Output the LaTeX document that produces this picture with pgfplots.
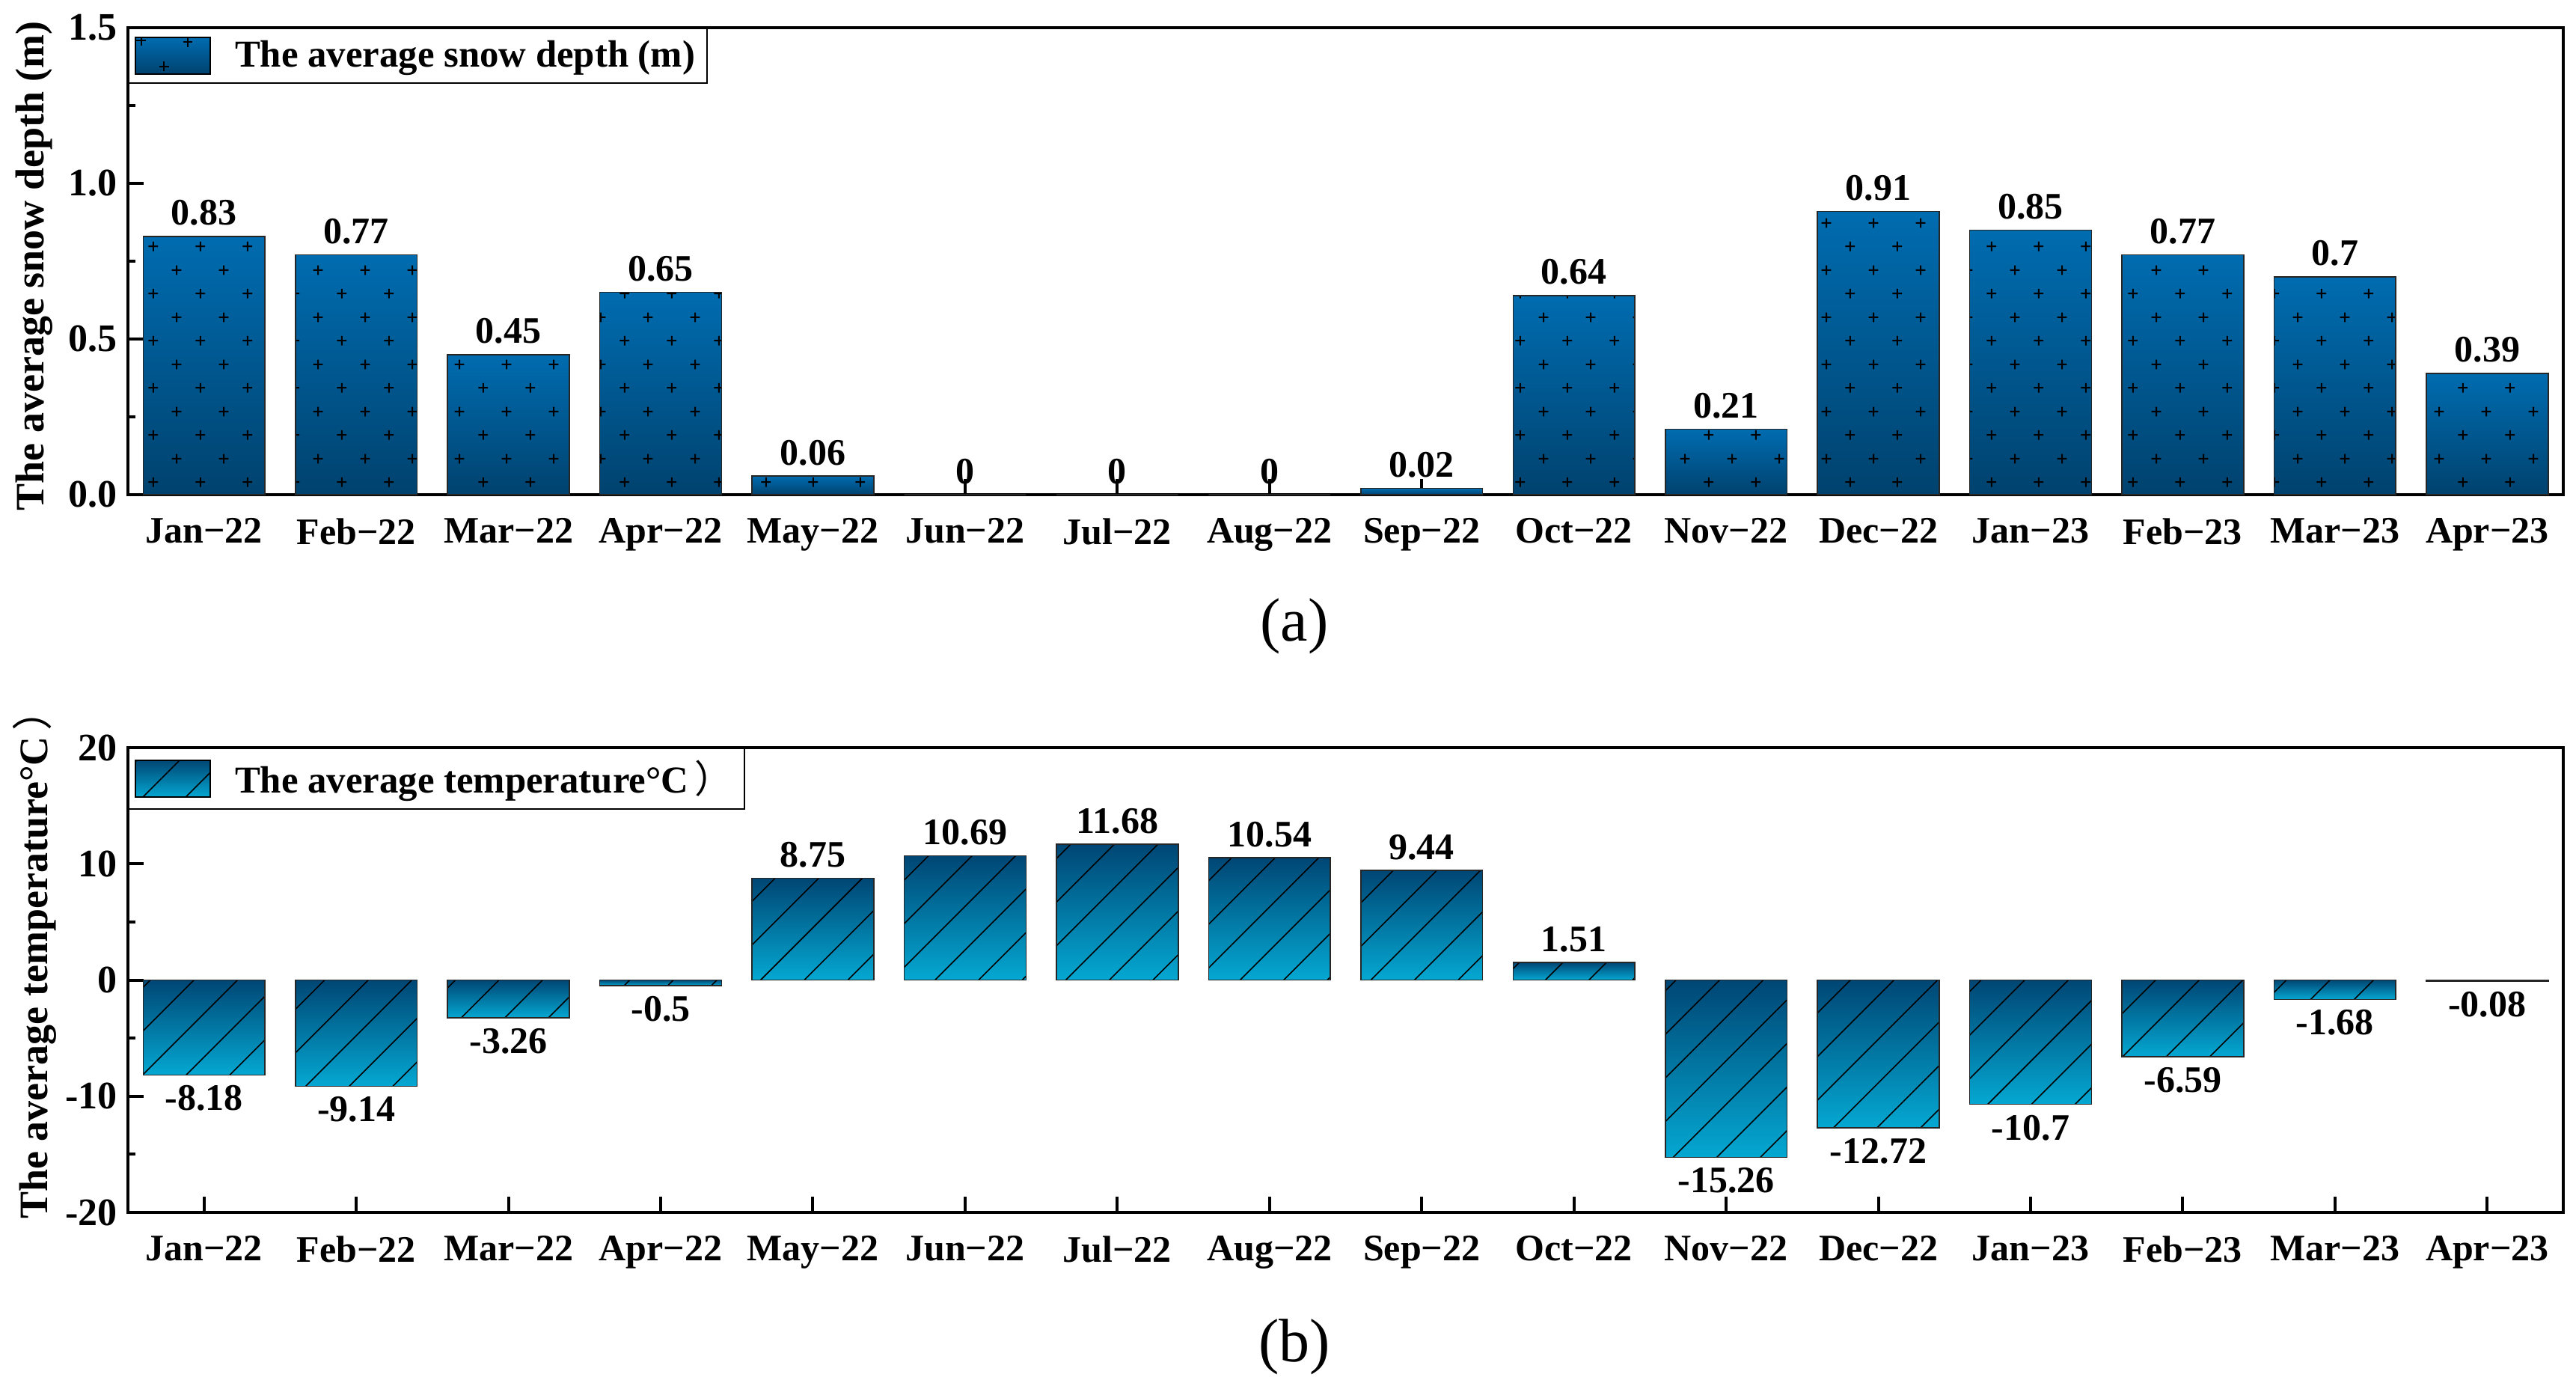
\documentclass[border=0pt]{standalone}
\usepackage{pgfplots}
\pgfplotsset{compat=1.18}
\usepackage{pgfplotstable}
\usepackage{fontspec}
\setmainfont{Liberation Serif}
\newfontfamily\cjk{Noto Sans CJK TC}
\usetikzlibrary{patterns,patterns.meta}

\pgfdeclarepatternformonly{mycross}{\pgfqpoint{0pt}{0pt}}{\pgfqpoint{15.8pt}{15.8pt}}{\pgfqpoint{15.8pt}{15.8pt}}{%
  \pgfsetlinewidth{0.5pt}%
  \pgfpathmoveto{\pgfqpoint{2.4pt}{4pt}}\pgfpathlineto{\pgfqpoint{5.6pt}{4pt}}%
  \pgfpathmoveto{\pgfqpoint{4pt}{2.4pt}}\pgfpathlineto{\pgfqpoint{4pt}{5.6pt}}%
  \pgfpathmoveto{\pgfqpoint{10.3pt}{11.9pt}}\pgfpathlineto{\pgfqpoint{13.5pt}{11.9pt}}%
  \pgfpathmoveto{\pgfqpoint{11.9pt}{10.3pt}}\pgfpathlineto{\pgfqpoint{11.9pt}{13.5pt}}%
  \pgfusepath{stroke}%
}

\definecolor{snowtop}{RGB}{0,108,176}
\definecolor{snowbot}{RGB}{0,66,110}
\definecolor{temptop}{RGB}{0,70,116}
\definecolor{tempbot}{RGB}{4,168,210}

\pgfplotstableread{
x y lab
0 0.83 0.83
1 0.77 0.77
2 0.45 0.45
3 0.65 0.65
4 0.06 0.06
5 0 0
6 0 0
7 0 0
8 0.02 0.02
9 0.64 0.64
10 0.21 0.21
11 0.91 0.91
12 0.85 0.85
13 0.77 0.77
14 0.70 0.7
15 0.39 0.39
}\snow

\pgfplotstableread{
x y lab
0 -8.18 -8.18
1 -9.14 -9.14
2 -3.26 -3.26
3 -0.5 -0.5
4 8.75 8.75
5 10.69 10.69
6 11.68 11.68
7 10.54 10.54
8 9.44 9.44
9 1.51 1.51
10 -15.26 -15.26
11 -12.72 -12.72
12 -10.7 -10.7
13 -6.59 -6.59
14 -1.68 -1.68
15 -0.08 -0.08
}\temp

\newcommand{\lblfont}{\fontsize{12.5}{15}\selectfont\bfseries}
\newcommand{\legfont}{\fontsize{12.7}{15}\selectfont\bfseries}
\newcommand{\ylfont}{\fontsize{13.5}{16}\selectfont\bfseries}
\newcommand{\cparen}{\hspace{2pt}{\cjk\mdseries ）}}

\pgfplotsset{
 mystyle/.style={
  scale only axis, width=813.75pt,
  xmin=-0.5, xmax=15.5,
  xtick={0,...,15},
  xticklabels={Jan−22,Feb−22,Mar−22,Apr−22,May−22,Jun−22,Jul−22,Aug−22,Sep−22,Oct−22,Nov−22,Dec−22,Jan−23,Feb−23,Mar−23,Apr−23},
  tick align=inside, xtick pos=bottom, ytick pos=left,
  axis line style={line width=1pt},
  major tick length=5.3pt, minor tick length=2.5pt,
  every tick/.style={black, line width=1pt},
  xticklabel style={font=\lblfont, yshift=-4.4pt},
  yticklabel style={font=\fontsize{13}{15}\selectfont\bfseries},
  /pgf/number format/assume math mode=true,
  point meta=explicit symbolic,
  legend style={at={(0,1)}, anchor=north west, font=\legfont, draw=black, line width=0.5pt, inner sep=2pt},
  legend cell align=left,
  minor y tick num=1,
  clip=false,
 },
 bars/.style={ybar, bar width=0.8, bar shift=0pt},
 lblpos/.style={bars, draw=none, fill=none, forget plot, nodes near coords,
   every node near coord/.style={font=\lblfont, black, anchor=south}},
 lblneg/.style={bars, draw=none, fill=none, forget plot, nodes near coords,
   every node near coord/.style={font=\lblfont, black, anchor=north}},
 snowlegend/.style={legend image code/.code={%
    \fill[top color=snowtop,bottom color=snowbot] (0pt,-6.15pt) rectangle (25pt,6.15pt);
    \draw[black, line width=0.5pt]
      (0.3pt,5.05pt) -- (3.5pt,5.05pt) (1.9pt,3.45pt) -- (1.9pt,6.15pt)
      (15.9pt,4.55pt) -- (19.1pt,4.55pt) (17.5pt,2.95pt) -- (17.5pt,6.15pt)
      (8pt,-3.55pt) -- (11.2pt,-3.55pt) (9.6pt,-5.15pt) -- (9.6pt,-1.95pt);
    \draw[black, line width=0.4pt] (0pt,-6.15pt) rectangle (25pt,6.15pt);
    \path (31pt,0pt);}},
 templegend/.style={legend image code/.code={%
    \fill[top color=temptop,bottom color=tempbot] (0pt,-6.15pt) rectangle (25pt,6.15pt);
    \draw[black, line width=0.4pt]
      (0pt,5.75pt) -- (0.4pt,6.15pt)
      (2.4pt,-6.15pt) -- (14.7pt,6.15pt)
      (16.7pt,-6.15pt) -- (25pt,2.15pt);
    \draw[black, line width=0.4pt] (0pt,-6.15pt) rectangle (25pt,6.15pt);
    \path (31pt,0pt);}},
}

\begin{document}
\begin{tikzpicture}
\path[use as bounding box] (-42.75pt,-299.75pt) rectangle (818pt,165.25pt);

\begin{axis}[mystyle, at={(0,0)}, anchor=south west, height=156pt,
  ymin=0, ymax=1.5, ytick={0,0.5,1.0,1.5},
  yticklabel style={/pgf/number format/.cd, fixed, fixed zerofill, precision=1},
  ylabel={The average snow depth (m)},
  every axis y label/.style={at={(axis description cs:-0.0384,0.49)}, rotate=90, anchor=center, font=\ylfont}]
\addlegendimage{snowlegend}
\addlegendentry{The average snow depth (m)}
\pgfplotsinvokeforeach{0,1,2,3,4,8,9,10,11,12,13,14,15}{%
  \addplot[bars, forget plot, draw=none, top color=snowtop, bottom color=snowbot,
    x filter/.expression={abs(x-#1)<0.1 ? x : nan}]
    table[x=x, y=y, meta=lab] {\snow};
}
\addplot[bars, forget plot, draw=black!85, line width=0.4pt, pattern=mycross, pattern color=black]
  table[x=x, y=y, meta=lab] {\snow};
\addplot[lblpos] table[x=x, y=y, meta=lab] {\snow};
\node[font=\fontsize{20.5}{24}\selectfont] at (rel axis cs:0.479,0) [yshift=-44pt] {(a)};
\end{axis}

\begin{axis}[mystyle, at={(0,-239.75pt)}, anchor=south west, height=155.25pt,
  ymin=-20, ymax=20, ytick={-20,-10,0,10,20},
  ylabel={The average temperature°C\cparen},
  every axis y label/.style={at={(axis description cs:-0.0384,0.555)}, rotate=90, anchor=center, font=\ylfont}]
\addlegendimage{templegend}
\addlegendentry{The average temperature°C\cparen}
\pgfplotsinvokeforeach{0,...,15}{%
  \addplot[bars, forget plot, draw=none, top color=temptop, bottom color=tempbot,
    x filter/.expression={abs(x-#1)<0.1 ? x : nan}]
    table[x=x, y=y, meta=lab] {\temp};
}
\addplot[bars, forget plot, draw=black!85, line width=0.4pt, pattern={Lines[angle=45, distance=10.3pt, line width=0.4pt]}, pattern color=black]
  table[x=x, y=y, meta=lab] {\temp};
\addplot[lblpos, y filter/.expression={y>=0 ? y : nan}] table[x=x, y=y, meta=lab] {\temp};
\addplot[lblneg, y filter/.expression={y<0 ? y : nan}] table[x=x, y=y, meta=lab] {\temp};
\node[font=\fontsize{20.5}{24}\selectfont] at (rel axis cs:0.479,0) [yshift=-45pt] {(b)};
\end{axis}
\end{tikzpicture}
\end{document}
